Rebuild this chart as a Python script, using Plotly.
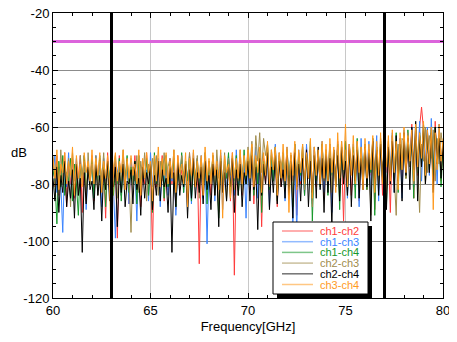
import numpy as np
import plotly.graph_objs as go

# frequency grid of the sweep, 60-80 GHz in 0.1 GHz steps
freq = np.linspace(60, 80, 201)

# isolation between channel pairs [dB] (one row = 2 GHz)
ch1_ch2 = [-72, -81, -70, -84, -74, -79, -69, -88, -73, -80, -71, -85, -75, -78, -70, -90, -72, -83, -76, -80,
           -70, -86, -73, -79, -71, -82, -74, -92, -69, -81, -75, -78, -72, -99, -70, -84, -73, -80, -71, -87,
           -74, -79, -70, -83, -72, -88, -75, -80, -69, -84, -73, -103, -71, -81, -76, -79, -70, -86, -74, -82,
           -71, -80, -73, -89, -70, -82, -75, -78, -72, -85, -69, -81, -74, -79, -71, -108, -73, -83, -70, -80,
           -75, -84, -71, -79, -73, -90, -70, -81, -74, -78, -72, -86, -69, -112, -73, -80, -71, -84, -75, -79,
           -70, -82, -68, -87, -72, -79, -69, -95, -71, -80, -67, -84, -73, -78, -69, -88, -70, -81, -72, -77,
           -68, -83, -70, -79, -66, -91, -71, -80, -69, -84, -67, -78, -72, -86, -68, -81, -70, -79, -66, -85,
           -69, -80, -67, -88, -71, -78, -65, -83, -70, -93, -68, -79, -66, -84, -71, -78, -67, -86, -69, -80,
           -66, -82, -70, -77, -64, -89, -68, -79, -67, -84, -65, -76, -69, -90, -63, -80, -67, -75, -64, -83,
           -62, -78, -66, -74, -59, -85, -63, -77, -60, -53, -61, -80, -64, -76, -60, -82, -58, -74, -63, -79,
           -65]
ch1_ch3 = [-77, -70, -83, -74, -80, -97, -72, -81, -69, -86, -75, -79, -71, -84, -73, -80, -70, -89, -76, -78,
           -72, -85, -70, -80, -74, -88, -71, -79, -75, -83, -69, -81, -99, -76, -72, -84, -70, -79, -73, -87,
           -71, -80, -74, -93, -70, -82, -72, -78, -75, -86, -69, -81, -73, -79, -71, -88, -74, -80, -70, -84,
           -73, -79, -71, -91, -75, -80, -70, -83, -72, -78, -74, -87, -69, -81, -73, -79, -70, -85, -72, -101,
           -74, -80, -71, -86, -73, -78, -69, -89, -75, -81, -70, -79, -72, -84, -68, -80, -74, -77, -71, -92,
           -69, -81, -72, -78, -67, -85, -70, -80, -73, -77, -68, -88, -71, -79, -66, -83, -72, -78, -69, -86,
           -67, -80, -71, -95, -70, -97, -68, -79, -72, -84, -66, -78, -70, -87, -67, -80, -71, -77, -65, -83,
           -68, -79, -66, -90, -70, -77, -67, -82, -69, -78, -65, -85, -70, -76, -66, -81, -68, -88, -64, -79,
           -67, -77, -65, -84, -69, -76, -63, -86, -66, -78, -64, -81, -68, -75, -62, -83, -66, -77, -64, -85,
           -61, -76, -65, -73, -60, -81, -63, -75, -58, -79, -62, -72, -60, -77, -57, -74, -63, -80, -59, -71,
           -66]
ch1_ch4 = [-75, -79, -94, -72, -81, -70, -84, -76, -79, -71, -86, -73, -80, -91, -74, -78, -70, -83, -75, -80,
           -71, -85, -73, -79, -70, -82, -74, -88, -72, -78, -69, -84, -75, -80, -71, -86, -73, -79, -70, -83,
           -74, -80, -72, -87, -70, -81, -75, -78, -71, -84, -73, -90, -69, -80, -74, -79, -72, -85, -70, -81,
           -73, -78, -71, -88, -74, -80, -69, -83, -72, -79, -70, -86, -75, -78, -71, -82, -73, -80, -69, -87,
           -72, -79, -70, -83, -74, -92, -71, -80, -73, -78, -69, -85, -72, -79, -70, -84, -74, -81, -68, -80,
           -70, -78, -67, -84, -71, -80, -68, -90, -72, -77, -66, -82, -70, -79, -67, -86, -71, -78, -69, -81,
           -68, -79, -70, -88, -66, -80, -71, -77, -67, -84, -69, -78, -65, -93, -70, -79, -68, -81, -66, -78,
           -69, -84, -67, -77, -70, -81, -66, -89, -68, -78, -65, -80, -69, -76, -67, -85, -64, -79, -68, -77,
           -66, -82, -68, -76, -64, -91, -67, -78, -65, -80, -63, -87, -67, -77, -65, -79, -62, -83, -66, -75,
           -63, -78, -61, -74, -64, -85, -60, -76, -62, -73, -59, -80, -63, -75, -61, -77, -60, -72, -64, -81,
           -67]
ch2_ch3 = [-70, -78, -73, -83, -68, -80, -74, -77, -71, -88, -69, -79, -73, -84, -70, -78, -72, -86, -69, -80,
           -73, -79, -70, -84, -72, -78, -69, -82, -74, -80, -71, -77, -70, -85, -73, -79, -68, -81, -72, -78,
           -97, -74, -79, -70, -83, -72, -78, -69, -86, -73, -80, -71, -77, -70, -84, -72, -79, -69, -81, -74,
           -71, -78, -68, -87, -72, -80, -70, -77, -73, -83, -69, -79, -72, -81, -70, -85, -71, -78, -69, -80,
           -72, -79, -70, -84, -68, -78, -73, -80, -69, -86, -71, -77, -70, -82, -72, -79, -68, -83, -70, -77,
           -67, -74, -65, -79, -63, -72, -62, -76, -64, -70, -66, -81, -68, -75, -67, -78, -69, -74, -70, -80,
           -68, -77, -70, -85, -67, -79, -69, -76, -66, -82, -70, -78, -68, -88, -67, -77, -69, -80, -66, -79,
           -68, -76, -66, -83, -69, -78, -67, -80, -65, -77, -68, -84, -66, -75, -69, -79, -65, -82, -67, -76,
           -66, -78, -68, -91, -65, -77, -67, -80, -64, -76, -67, -83, -65, -79, -63, -77, -91, -66, -75, -64,
           -65, -78, -62, -74, -64, -80, -61, -73, -90, -66, -72, -60, -76, -63, -71, -61, -79, -64, -73, -62,
           -68]
ch2_ch4 = [-78, -86, -74, -90, -77, -83, -72, -88, -79, -85, -75, -92, -73, -84, -78, -104, -76, -87, -74, -82,
           -79, -89, -73, -84, -77, -93, -75, -82, -72, -86, -78, -81, -74, -95, -76, -83, -73, -88, -79, -80,
           -75, -87, -72, -82, -78, -91, -74, -85, -76, -80, -73, -89, -77, -84, -72, -86, -75, -81, -78, -90,
           -74, -104, -76, -88, -72, -84, -77, -81, -73, -92, -75, -85, -71, -85, -76, -83, -74, -87, -72, -82,
           -77, -89, -73, -84, -75, -95, -72, -83, -76, -86, -74, -81, -71, -90, -75, -84, -73, -88, -76, -80,
           -72, -86, -70, -82, -74, -96, -71, -84, -73, -80, -69, -89, -74, -83, -70, -87, -72, -81, -75, -85,
           -70, -84, -72, -92, -69, -81, -73, -86, -71, -80, -68, -88, -72, -83, -70, -85, -67, -82, -71, -90,
           -69, -83, -71, -95, -68, -81, -70, -86, -67, -80, -72, -84, -66, -88, -70, -79, -68, -85, -71, -82,
           -67, -81, -69, -93, -65, -80, -68, -84, -66, -78, -64, -89, -67, -80, -65, -83, -63, -79, -66, -86,
           -62, -77, -64, -82, -60, -75, -58, -86, -63, -74, -59, -80, -61, -76, -62, -83, -60, -73, -64, -78,
           -66]
ch3_ch4 = [-71, -78, -68, -82, -73, -76, -69, -80, -72, -77, -67, -84, -70, -78, -73, -81, -69, -76, -72, -79,
           -68, -80, -71, -77, -69, -83, -72, -78, -70, -81, -105, -74, -69, -79, -72, -76, -68, -82, -71, -78,
           -70, -77, -73, -80, -68, -84, -71, -78, -69, -76, -72, -86, -70, -79, -67, -81, -71, -77, -69, -80,
           -72, -78, -68, -83, -70, -76, -73, -80, -69, -88, -71, -77, -68, -81, -72, -78, -70, -84, -67, -79,
           -71, -80, -69, -77, -72, -82, -68, -92, -70, -76, -73, -85, -69, -78, -71, -78, -68, -80, -70, -77,
           -68, -78, -66, -81, -70, -76, -67, -83, -69, -77, -65, -80, -68, -75, -67, -84, -69, -78, -66, -79,
           -67, -90, -69, -77, -65, -82, -68, -76, -66, -80, -69, -78, -64, -85, -67, -77, -68, -80, -65, -78,
           -66, -79, -64, -76, -67, -83, -62, -78, -65, -75, -59, -81, -66, -77, -63, -80, -65, -76, -67, -82,
           -64, -78, -66, -75, -63, -83, -65, -77, -62, -80, -66, -74, -63, -79, -61, -76, -65, -82, -62, -75,
           -60, -76, -63, -72, -61, -79, -59, -74, -62, -71, -58, -77, -61, -73, -60, -89, -62, -75, -59, -72,
           -64]

series_names = ["ch1-ch2", "ch1-ch3", "ch1-ch4", "ch2-ch3", "ch2-ch4", "ch3-ch4"]
series_values = [ch1_ch2, ch1_ch3, ch1_ch4, ch2_ch3, ch2_ch4, ch3_ch4]
series_colors = ["#ff3b3b", "#3a84ff", "#16982a", "#a08c4c", "#000000", "#ff9a1e"]

limit_db = -30          # spec limit line
band_edges = [63, 77]   # band markers [GHz]

xtick_vals = [60, 65, 70, 75, 80]
ytick_vals = [-120, -100, -80, -60, -40, -20]
ytick_text = ["-120", "-100", "-80", "-60", "-40", "-20"]

font_name = "Liberation Sans, Arial, sans-serif"

# the html body adds an 8 px margin, so the figure is a bit smaller than the window
body_pad = 8
fig_w, fig_h = 443, 326

# plot area in figure pixels
area_left, area_right, area_top, area_bottom = 45, 435, 5, 290


def px_x(p):
    # window pixel -> paper x
    return (p - body_pad - area_left) / (area_right - area_left)


def px_y(p):
    # window pixel -> paper y
    return (area_bottom - (p - body_pad)) / (area_bottom - area_top)


fig = go.Figure()
for name, vals, col in zip(series_names, series_values, series_colors):
    fig.add_trace(
        go.Scatter(
            name=name,
            x=freq,
            y=vals,
            mode="lines",
            line=dict(color=col, width=1),
            showlegend=False,
        )
    )

# limit line and band edges
fig.add_trace(
    go.Scatter(
        x=[freq[0], freq[-1]],
        y=[limit_db, limit_db],
        mode="lines",
        line=dict(color="#dc64dc", width=3),
        showlegend=False,
    )
)
for f in band_edges:
    fig.add_trace(
        go.Scatter(
            x=[f, f],
            y=[ytick_vals[0], ytick_vals[-1]],
            mode="lines",
            line=dict(color="black", width=3),
            showlegend=False,
        )
    )

# legend box with drop shadow, drawn by hand (KaleidaGraph style)
box_l, box_r, box_t, box_b = 273, 368, 222, 294
fig.add_shape(
    type="rect", xref="paper", yref="paper",
    x0=px_x(box_l + 4), x1=px_x(box_r + 4), y0=px_y(box_b + 4), y1=px_y(box_t + 4),
    fillcolor="black", line=dict(width=0), layer="above",
)
fig.add_shape(
    type="rect", xref="paper", yref="paper",
    x0=px_x(box_l), x1=px_x(box_r), y0=px_y(box_b), y1=px_y(box_t),
    fillcolor="white", line=dict(color="black", width=1), layer="above",
)
row_h = 10.7
for i, (name, col) in enumerate(zip(series_names, series_colors)):
    yc = box_t + 9 + i * row_h
    fig.add_shape(
        type="line", xref="paper", yref="paper",
        x0=px_x(282), x1=px_x(313), y0=px_y(yc), y1=px_y(yc),
        line=dict(color=col, width=1.5), opacity=0.55, layer="above",
    )
    fig.add_annotation(
        xref="paper", yref="paper", x=px_x(361), y=px_y(yc),
        xanchor="right", yanchor="middle", showarrow=False,
        text=name, font=dict(color=col, size=11, family=font_name),
    )

# horizontal "dB" label on the left
fig.add_annotation(
    xref="paper", yref="paper", x=px_x(19), y=px_y(152),
    xanchor="center", yanchor="middle", showarrow=False,
    text="dB", font=dict(color="black", size=13, family=font_name),
)

axis_common = dict(
    showline=True,
    linecolor="black",
    linewidth=1,
    mirror="ticks",
    ticks="inside",
    ticklen=5,
    tickcolor="black",
    zeroline=False,
    ticklabeloverflow="allow",
    tickfont=dict(size=13, color="black", family=font_name),
)

fig.update_layout(
    width=fig_w,
    height=fig_h,
    margin=dict(l=area_left, r=fig_w - area_right, t=area_top, b=fig_h - area_bottom, autoexpand=False),
    paper_bgcolor="white",
    plot_bgcolor="white",
    showlegend=False,
    xaxis=dict(
        range=[60, 80],
        tickvals=xtick_vals,
        showgrid=True,
        gridcolor="#c8c8c8",
        gridwidth=1,
        automargin=False,
        minor=dict(dtick=1, ticks="inside", ticklen=3, tickcolor="black", showgrid=False),
        title=dict(text="Frequency[GHz]", font=dict(size=13, color="black", family=font_name), standoff=8),
        **axis_common,
    ),
    yaxis=dict(
        range=[-120, -20],
        tickvals=ytick_vals,
        ticktext=ytick_text,
        showgrid=True,
        gridcolor="#8c8c8c",
        gridwidth=1,
        automargin=False,
        minor=dict(dtick=5, ticks="inside", ticklen=3, tickcolor="black", showgrid=False),
        **axis_common,
    ),
)

fig.write_html("out.html")
